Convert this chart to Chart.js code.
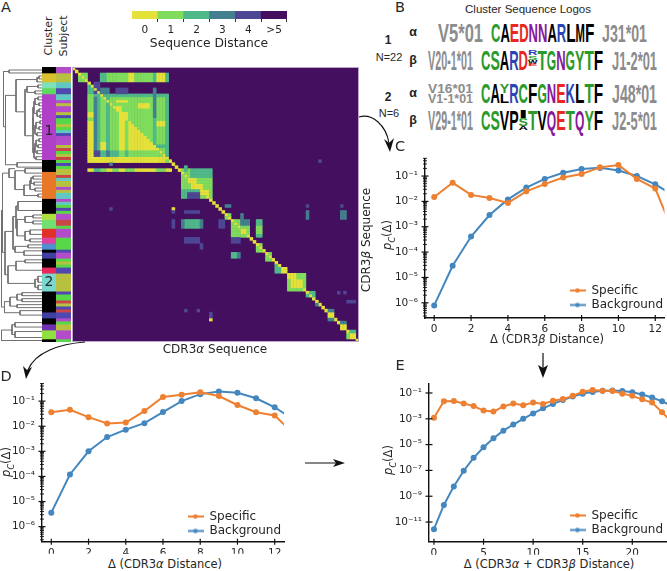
<!DOCTYPE html>
<html>
<head>
<meta charset="utf-8">
<script src="https://cdn.jsdelivr.net/npm/chart.js@4"></script>
<style>
  html, body { margin: 0; padding: 0; background: #fff; }
  #page { position: relative; width: 667px; height: 571px; overflow: hidden; font-family: "DejaVu Sans", sans-serif; color: #262626; }
  #page canvas { position: absolute; }
  .lbl { position: absolute; white-space: nowrap; line-height: 1; }
  .fit { position: absolute; left: 0; top: 0; white-space: nowrap; line-height: 1; font-family: "Liberation Sans", sans-serif; font-weight: bold; transform-origin: 0 0; }
  sub { font-size: 70%; line-height: 0; }
  svg { position: absolute; left: 0; top: 0; }
</style>
</head>
<body>
<div id="page"></div>
<script>
// ---------- panel C: CDR3 beta distance ----------
const distC = [0, 1, 2, 3, 4, 5, 6, 7, 8, 9, 10, 11, 12, 13];
const specificC = [0.015, 0.054, 0.018, 0.0135, 0.0087, 0.025, 0.048, 0.087, 0.12, 0.22, 0.27, 0.077, 0.032, 0.00056];
const backgroundC = [7.9e-7, 2.9e-5, 4.1e-4, 2.9e-3, 0.012, 0.035, 0.077, 0.134, 0.19, 0.21, 0.166, 0.10, 0.047, 0.017];

// ---------- panel D: CDR3 alpha distance ----------
const distD = [0, 1, 2, 3, 4, 5, 6, 7, 8, 9, 10, 11, 12, 13];
const specificD = [0.0358, 0.0453, 0.023, 0.0128, 0.014, 0.04, 0.147, 0.18, 0.227, 0.16, 0.07, 0.036, 0.0267, 0.0052];
const backgroundD = [3.6e-6, 1.2e-4, 1e-3, 3.7e-3, 7.3e-3, 0.0132, 0.0368, 0.1, 0.19, 0.24, 0.215, 0.13, 0.057, 0.0187];

// ---------- panel E: summed distance ----------
const distE = [0, 1, 2, 3, 4, 5, 6, 7, 8, 9, 10, 11, 12, 13, 14, 15, 16, 17, 18, 19, 20, 21, 22, 23, 24];
const specificE = [1.2e-3, 0.0225, 0.0239, 0.0151, 9.6e-3, 4.3e-3, 3.6e-3, 9.1e-3, 0.0151, 0.0113, 0.018, 0.0143, 0.0253, 0.0336, 0.0597, 0.126, 0.167, 0.149, 0.141, 0.089, 0.06, 0.032, 0.018, 3.2e-3, 5.8e-4];
const backgroundE = [2.8e-12, 2.1e-10, 5.8e-9, 9.5e-8, 9.5e-7, 6.3e-6, 3.1e-5, 1.2e-4, 3.6e-4, 1e-3, 2.6e-3, 6.5e-3, 0.0143, 0.028, 0.053, 0.089, 0.119, 0.149, 0.158, 0.141, 0.112, 0.075, 0.045, 0.0225, 0.01];

// tick labels
const xTicksCD = [0, 2, 4, 6, 8, 10, 12];
const xTicksE = [0, 5, 10, 15, 20];
const yTicksCD = [1e-6, 1e-5, 1e-4, 1e-3, 1e-2, 1e-1];
const yTickLabelsCD = ['10⁻⁶', '10⁻⁵', '10⁻⁴', '10⁻³', '10⁻²', '10⁻¹'];
const yTicksE = [1e-11, 1e-9, 1e-7, 1e-5, 1e-3, 1e-1];
const yTickLabelsE = ['10⁻¹¹', '10⁻⁹', '10⁻⁷', '10⁻⁵', '10⁻³', '10⁻¹'];

// ---------- panel A: heat map ----------
const distanceLabels = ['0', '1', '2', '3', '4', '>5'];
const distanceColors = ['#e4e23a', '#80dc5c', '#50b98a', '#43808f', '#4e4793', '#440f5f'];
const heatSize = 92;
// rowFrom, rowTo, colFrom, colTo, distance (indices inclusive, later rows overwrite earlier ones)
const heatBlocks = [
  [2,4,2,4,1],[2,4,9,30,1],[2,4,9,10,2],[2,4,18,19,0],[2,4,26,26,2],[2,4,27,29,0],[2,4,30,30,2],
  [5,8,7,8,4],[6,8,5,6,2],[7,8,9,11,3],[7,8,14,17,4],[7,8,26,26,3],
  [9,31,5,30,1],[9,9,7,30,2],[9,29,30,30,2],[9,31,7,8,2],[10,27,7,7,3],[9,27,11,11,2],
  [9,16,26,26,3],[17,25,26,26,2],[26,26,27,29,2],
  [15,16,5,6,0],[18,31,5,6,0],[25,27,9,10,0],[11,11,14,17,0],[13,14,14,15,0],[15,17,15,17,0],[18,27,15,16,0],
  [12,13,21,24,0],[18,19,27,29,0],
  [19,19,18,19,0],[20,20,18,20,0],[21,21,18,21,0],[22,22,18,22,0],[23,23,18,23,0],[24,24,18,24,0],[25,25,18,25,0],[26,26,18,26,0],[27,27,18,27,0],
  [28,29,7,8,4],[28,29,9,10,2],[28,29,11,11,3],[28,29,12,14,2],[28,29,17,17,2],
  [30,31,5,29,0],[30,31,30,30,1],[32,32,12,12,3],[31,31,79,79,4],
  [34,34,5,31,0],[34,34,7,8,2],[34,34,9,10,1],[34,34,13,14,1],[34,34,17,19,1],[34,34,27,29,1],
  [34,43,35,44,1],[33,34,36,36,2],[34,36,38,44,2],[37,38,37,39,0],[39,40,38,41,0],[41,42,41,43,0],
  [41,43,35,40,2],[42,43,37,40,4],
  [46,46,49,50,3],[46,46,75,75,4],[46,46,86,86,4],[47,47,12,12,4],[47,47,32,32,0],[48,48,32,32,4],[48,48,36,40,4],
  [48,50,75,75,3],[48,50,86,87,3],[49,50,49,50,1],[49,50,54,54,3],
  [51,53,32,32,4],[51,53,35,41,2],[51,53,35,35,3],[51,53,41,41,3],[51,53,47,48,4],
  [51,56,51,56,1],[51,52,54,56,3],[51,56,59,60,2],[53,55,59,60,1],[54,55,54,55,0],
  [57,58,36,40,4],[57,58,51,53,4],[59,60,41,41,4],[59,61,59,60,1],[62,63,51,53,2],[62,63,53,53,3],[62,64,62,63,1],
  [66,68,65,66,2],[67,68,67,68,0],
  [69,74,69,74,1],[69,70,69,71,0],[71,73,70,73,0],
  [75,76,75,77,2],[75,75,85,85,4],[75,75,87,87,4],[78,78,88,90,4],[78,79,78,78,3],
  [81,81,36,36,4],[81,81,40,40,4],[82,83,44,44,4],[84,84,44,44,0],
  [81,84,82,83,1],[81,81,82,83,3],[84,84,82,83,3],[82,83,82,83,0],
  [85,87,86,87,1],[85,85,86,87,3],[86,87,86,87,0],
  [88,90,88,90,1],[88,88,88,90,2],[89,90,89,90,0]
];

// colour strips left of the heat map
const clusterSizes = [2, 3, 2, 2, 22, 4, 9, 5, 2, 3, 3, 2, 2, 1, 2, 3, 2, 6, 7, 2, 2, 2, 3, 1];
const clusterColors = ['#000000', '#d8c030', '#80e0b8', '#60d860', '#b040c8', '#000000', '#e87828', '#000000', '#b0e040', '#70e070', '#e03028', '#e040a0', '#5090d0', '#000000', '#4040a0', '#000000', '#e82858', '#78d8d0', '#000000', '#4040a0', '#000000', '#7030b0', '#90e040', '#000000'];
const subjectColorNames = { M: '#b34cc8', O: '#b8c040', T: '#60c8c0', I: '#5048b0', G: '#58d848', R: '#c84848' };
const subjectSizes = [2,3,2,2,2,1,1,2,1,1,2,1,1,1,1,3,1,1,1,1,1,1, 1,1,2,1,1,2,1,1,2,1,1,1,1,1,2,2,1,3,4,1,2,1,1,1,2,6,1,2,1,1,1,1,2,1,1,2,3,1];
const subjectKinds = ['M','O','T','I','T','M','O','M','O','I','G','O','G','T','I','M','O','R','G','O','R','G', 'I','G','O','R','T','O','M','O','T','M','T','G','I','G','M','R','G','M','G','I','M','G','O','G','I','O','I','G','R','O','I','R','I','M','G','O','M','G'];

// dendrogram: yA, xA, yB, xB, xJoin (y in heat map rows, x in px from the left)
const dendroLinks = [
  [1,42,2,42,9],[3,42,4,42,39],[3.5,39,5,42,37],[6,42,7,42,38],[8,42,9,42,35],[6.5,38,8.5,35,27],
  [10,42,11,42,38],[12,42,13,42,39],[14,42,15,42,39],[16,42,17,42,40],[18,42,19,42,40],[20,42,21,42,39],[22,42,23,42,37],[24,42,25,42,39],[26,42,27,42,38],[28,42,29,42,37],[30,42,31,42,36],
  [10.5,38,12.5,39,35],[14.5,39,16.5,40,37],[18.5,40,20.5,39,36],[11.5,35,15.5,37,34],[19.5,36,22.5,37,35],[13.5,34,21,35,33],[24.5,39,26.5,38,36],[25.5,36,28.5,37,35],[27,35,30.5,36,34],[17,33,28.7,34,33],
  [7.5,27,23,33,25],[4.2,37,15,25,16],[32,42,33.5,42,17],
  [9.5,16,32.7,17,5.5],[1.5,9,20,5.5,3.5],
  [34,42,35.5,42,25],[36.5,42,37.5,42,33],[38.5,42,39.5,42,34],[40.5,42,41.5,42,35],[37,33,39,34,31],[38,31,41,35,30],[42.5,42,43.5,42,38],[39.5,30,43,38,24],[34.7,25,41,24,15],
  [34,15,37,15,9],
  [45,42,48,42,18],[49.5,42,50.5,42,33],[51.5,42,52.5,42,33],[50,33,52,33,25],[54.5,42,56,42,30],[57.5,42,58.5,42,30],[55,30,58,30,25],[59.5,42,60.5,42,28],[61.5,42,63,42,24],
  [51,25,56.5,25,17],[60,28,62,24,15],[46.5,18,54,17,16],[50,16,61,15,13],
  [64.5,42,65.5,42,25],[65,25,68,42,16],[70,42,72,42,38],[73,42,74.5,42,38],[71,38,73.7,38,35],[66.5,16,72.4,35,8],
  [55,13,69.5,8,5],[35.5,9,62,5,2.5],
  [75.5,42,76.5,42,22],[77.5,42,78.5,42,22],[76,22,78,22,17],[79.5,42,80.5,42,17],[77,17,80,17,10],[81.5,42,83,42,20],[78.5,10,82.2,20,4.5],
  [85.5,42,87,42,15],[88.5,42,90.5,42,15],[86.2,15,89.5,15,12],[88,12,91.5,42,1.5],
  [48,2.5,80.3,4.5,1.5]
];

// ---------- panel B: logos ----------
const letterColors = { C: '#2a9a2a', S: '#2a9a2a', T: '#2a9a2a', G: '#2a9a2a', Y: '#2a9a2a', A: '#000', L: '#000', M: '#000', F: '#000', V: '#000', P: '#000', I: '#000', W: '#000', E: '#e8281e', D: '#e8281e', N: '#86189c', Q: '#86189c', R: '#2a44b8', K: '#2a44b8' };
const logoTitle = 'Cluster Sequence Logos';
const logoRows = [
  { chain: 'α', v: ['V5*01'], cols: 'CAEDNNARLMF'.split(''), j: 'J31*01', top: 23, height: 19, left: 491, vLeft: 438, vWidth: 45, jLeft: 602 },
  { chain: 'β', v: ['V20-1*01'], cols: ['C','S','A','R','D',[['R',0.28],['S',0.22],['W',0.2],['E',0.12]],'T','G','N','G','Y','T','F'], j: 'J1-2*01', top: 50, height: 20, left: 481, vLeft: 428, vWidth: 45, jLeft: 612 },
  { chain: 'α', v: ['V16*01', 'V1-1*01'], cols: ['C','A',[['Y',0.5],['L',0.5]],'R','C','F','G','N','E','K','L','T','F'], j: 'J48*01', top: 83, height: 20, left: 481, vLeft: 428, vWidth: 45, jLeft: 612 },
  { chain: 'β', v: ['V29-1*01'], cols: ['C','S','V','P',[['I',0.42],['S',0.4],['A',0.18]],'T','V','Q','E','T','Q','Y','F'], j: 'J2-5*01', top: 110, height: 20, left: 481, vLeft: 428, vWidth: 45, jLeft: 612 }
];

const orange = '#ee8031';
const blue = '#4487bf';
const ink = '#262626';

const page = document.getElementById('page');

function addCanvas(left, top, width, height) {
  const c = document.createElement('canvas');
  c.width = width;
  c.height = height;
  c.style.left = left + 'px';
  c.style.top = top + 'px';
  c.style.width = width + 'px';
  c.style.height = height + 'px';
  page.appendChild(c);
  return c;
}

function addLabel(html, x, y, size, opts = {}) {
  const d = document.createElement('div');
  d.className = 'lbl';
  d.innerHTML = html;
  d.style.left = x + 'px';
  d.style.top = y + 'px';
  d.style.fontSize = size + 'px';
  d.style.transform = 'translate(-50%,-50%) rotate(' + (opts.rot || 0) + 'deg)';
  if (opts.font) d.style.fontFamily = opts.font;
  if (opts.weight) d.style.fontWeight = opts.weight;
  if (opts.color) d.style.color = opts.color;
  page.appendChild(d);
}

// squeeze a text run into a given box, logo style
const measure = document.createElement('canvas').getContext('2d');
function addFit(text, x, y, w, h, color) {
  const fs = 40;
  measure.font = 'bold ' + fs + 'px "Liberation Sans"';
  const sx = w / measure.measureText(text).width;
  const sy = h / (0.729 * fs);
  const s = document.createElement('span');
  s.className = 'fit';
  s.textContent = text;
  s.style.fontSize = fs + 'px';
  s.style.color = color;
  s.style.transform = 'translate(' + x + 'px,' + (y - 0.1175 * fs * sy) + 'px) scale(' + sx + ',' + sy + ')';
  page.appendChild(s);
}

// spine ticks straddling the axes, the ladder look of the original
const axisTicks = {
  id: 'axisTicks',
  afterDraw(chart) {
    const { ctx, chartArea, scales } = chart;
    ctx.save();
    ctx.strokeStyle = '#111';
    for (const t of scales.y.ticks) {
      const py = scales.y.getPixelForValue(t.value);
      const len = t.major ? 3.5 : 2;
      ctx.lineWidth = t.major ? 1.2 : 0.9;
      ctx.beginPath();
      ctx.moveTo(chartArea.left - len, py);
      ctx.lineTo(chartArea.left + len, py);
      ctx.stroke();
    }
    for (const t of scales.x.ticks) {
      const px = scales.x.getPixelForValue(t.value);
      ctx.lineWidth = 1.2;
      ctx.beginPath();
      ctx.moveTo(px, chartArea.bottom - 3);
      ctx.lineTo(px, chartArea.bottom + 3);
      ctx.stroke();
    }
    ctx.restore();
  }
};

// legend sits inside the plot, at a fixed spot
const legendSpot = {
  id: 'legendSpot',
  afterLayout(chart, args, opts) {
    const l = chart.legend;
    l.left = opts.x;
    l.right = opts.x + 110;
    l.top = opts.y;
    l.bottom = opts.y + 40;
  }
};

function legendSample(color) {
  const c = document.createElement('canvas');
  c.width = 16;
  c.height = 7;
  const g = c.getContext('2d');
  g.strokeStyle = color;
  g.lineWidth = 2;
  g.beginPath();
  g.moveTo(0, 3.5);
  g.lineTo(16, 3.5);
  g.stroke();
  g.fillStyle = color;
  g.beginPath();
  g.arc(8, 3.5, 2.2, 0, Math.PI * 2);
  g.fill();
  return c;
}

function logPanel(p) {
  const c = addCanvas(p.canvas[0], p.canvas[1], p.canvas[2], p.canvas[3]);
  const toPoints = (xs, ys) => xs.map((x, i) => ({ x, y: ys[i] }));
  const series = (label, ys, color) => ({
    label,
    data: toPoints(p.dist, ys),
    borderColor: color,
    backgroundColor: color,
    borderWidth: 2,
    pointRadius: 3,
    pointBorderWidth: 0,
    tension: 0
  });
  new Chart(c.getContext('2d'), {
    type: 'line',
    data: { datasets: [series('Specific', p.specific, orange), series('Background', p.background, blue)] },
    plugins: [axisTicks, legendSpot],
    options: {
      responsive: false,
      animation: false,
      layout: { autoPadding: false, padding: { top: p.area.top - p.canvas[1], right: p.canvas[0] + p.canvas[2] - p.area.right, left: 0, bottom: 0 } },
      plugins: {
        tooltip: { enabled: false },
        legendSpot: { x: p.legend[0] - p.canvas[0], y: p.legend[1] - p.canvas[1] },
        legend: {
          position: 'chartArea',
          align: 'start',
          labels: {
            usePointStyle: true,
            pointStyleWidth: 16,
            padding: 2.5,
            color: ink,
            font: { size: 12 },
            generateLabels(chart) {
              const items = Chart.defaults.plugins.legend.labels.generateLabels(chart);
              items.forEach((it, i) => { it.pointStyle = legendSample(i === 0 ? orange : blue); });
              return items;
            }
          }
        }
      },
      scales: {
        x: {
          type: 'linear',
          min: -0.5,
          max: p.xMax,
          grid: { display: false, drawTicks: false },
          border: { display: true, color: '#111', width: 1.4 },
          ticks: { padding: 5, color: ink, font: { size: 10.5 }, maxRotation: 0, autoSkip: false },
          afterBuildTicks(s) { s.ticks = p.xTicks.map(v => ({ value: v })); },
          afterFit(s) { s.height = p.canvas[1] + p.canvas[3] - p.area.bottom; }
        },
        y: {
          type: 'logarithmic',
          min: p.yMin,
          max: p.yMax,
          grid: { display: false, drawTicks: false },
          border: { display: true, color: '#111', width: 1.4 },
          ticks: {
            autoSkip: false,
            padding: 7,
            color: ink,
            font: { size: 10.5 },
            callback(v) {
              const i = p.yTicks.findIndex(t => Math.abs(Math.log10(t) - Math.log10(v)) < 1e-6);
              return i >= 0 ? p.yTickLabels[i] : '';
            }
          },
          afterBuildTicks(s) {
            const out = p.yTicks.map(v => ({ value: v, major: true }));
            if (p.minorTicks) {
              for (let e = -8; e <= -1; e++) {
                for (const m of [2, 3, 4, 5, 6, 7, 8, 9]) {
                  const v = m * Math.pow(10, e);
                  if (v >= p.yMin && v <= p.yMax) out.push({ value: v, major: false });
                }
              }
              for (const v of [1e-7, 1e-8]) if (v >= p.yMin) out.push({ value: v, major: true });
            }
            s.ticks = out;
          },
          afterFit(s) { s.width = p.area.left - p.canvas[0]; }
        }
      }
    }
  });
}

Chart.defaults.font.family = '"DejaVu Sans", sans-serif';

logPanel({
  canvas: [375, 145, 292, 195], area: { left: 425, right: 666, top: 153, bottom: 318 },
  dist: distC, specific: specificC, background: backgroundC, xTicks: xTicksCD,
  xMax: 12.5, yMin: Math.pow(10, -6.6), yMax: Math.pow(10, -0.3), yTicks: yTicksCD, yTickLabels: yTickLabelsCD, minorTicks: true,
  legend: [567, 282]
});
logPanel({
  canvas: [0, 370, 290, 185], area: { left: 42, right: 284, top: 378, bottom: 543 },
  dist: distD, specific: specificD, background: backgroundD, xTicks: xTicksCD,
  xMax: 12.5, yMin: Math.pow(10, -6.6), yMax: Math.pow(10, -0.29), yTicks: yTicksCD, yTickLabels: yTickLabelsCD, minorTicks: true,
  legend: [185, 508]
});
logPanel({
  canvas: [375, 370, 292, 185], area: { left: 429, right: 667, top: 378, bottom: 542 },
  dist: distE, specific: specificE, background: backgroundE, xTicks: xTicksE,
  xMax: 23.5, yMin: Math.pow(10, -12.5), yMax: Math.pow(10, -0.25), yTicks: yTicksE, yTickLabels: yTickLabelsE, minorTicks: false,
  legend: [567, 507]
});

// ---------- heat map ----------
const grid = [];
for (let r = 0; r < heatSize; r++) grid.push(new Array(heatSize).fill(5));
for (const [r0, r1, c0, c1, d] of heatBlocks) {
  for (let r = r0; r <= r1; r++) for (let k = c0; k <= c1; k++) grid[r][k] = d;
}
for (let i = 0; i < heatSize; i++) grid[i][i] = 0; // every sequence is at distance 0 from itself

const heatSets = [0, 1, 2, 3, 4].map(d => {
  const pts = [];
  for (let r = 0; r < heatSize; r++) for (let k = 0; k < heatSize; k++) {
    if (grid[r][k] === d) pts.push({ x: k + 0.5, y: r + 0.5 });
  }
  return { label: distanceLabels[d], data: pts, backgroundColor: distanceColors[d], borderWidth: 0, pointStyle: 'rect', pointRadius: 2.5 };
}).reverse();

const heatBackground = {
  id: 'heatBackground',
  beforeDatasetsDraw(chart) {
    const { ctx, chartArea: a } = chart;
    ctx.save();
    ctx.fillStyle = distanceColors[5];
    ctx.fillRect(a.left, a.top, a.right - a.left, a.bottom - a.top);
    ctx.restore();
  },
  afterDatasetsDraw(chart) {
    const { ctx, chartArea: a } = chart;
    ctx.save();
    ctx.strokeStyle = '#b9a8c9';
    ctx.lineWidth = 1;
    ctx.strokeRect(a.left + 0.5, a.top + 0.5, a.right - a.left - 1, a.bottom - a.top - 1);
    ctx.restore();
  }
};

new Chart(addCanvas(72, 67, 287, 275).getContext('2d'), {
  type: 'scatter',
  data: { datasets: heatSets },
  plugins: [heatBackground],
  options: {
    responsive: false,
    animation: false,
    layout: { autoPadding: false },
    plugins: { legend: { display: false }, tooltip: { enabled: false } },
    scales: {
      x: { type: 'linear', display: false, min: 0, max: heatSize },
      y: { type: 'linear', display: false, min: 0, max: heatSize, reverse: true }
    }
  }
});

// ---------- strips ----------
function strip(left, width, sizes, colors) {
  new Chart(addCanvas(left, 67, width, 275).getContext('2d'), {
    type: 'bar',
    data: {
      labels: [''],
      datasets: sizes.map((s, i) => ({ data: [s], backgroundColor: colors[i], borderWidth: 0, barPercentage: 1, categoryPercentage: 1 }))
    },
    options: {
      responsive: false,
      animation: false,
      layout: { autoPadding: false },
      plugins: { legend: { display: false }, tooltip: { enabled: false } },
      scales: {
        x: { display: false, stacked: true },
        y: { display: false, stacked: true, min: 0, max: heatSize, reverse: true }
      }
    }
  });
}
strip(42, 14, clusterSizes, clusterColors);
strip(56, 15, subjectSizes, subjectKinds.map(k => subjectColorNames[k]));

// ---------- dendrogram ----------
const dendroPoints = [];
for (const [yA, xA, yB, xB, xJoin] of dendroLinks) {
  dendroPoints.push({ x: xA, y: yA }, { x: xJoin, y: yA }, { x: xJoin, y: yB }, { x: xB, y: yB }, { x: NaN, y: NaN });
}
new Chart(addCanvas(0, 67, 42, 275).getContext('2d'), {
  type: 'scatter',
  data: { datasets: [{ data: dendroPoints, showLine: true, spanGaps: false, borderColor: '#707070', borderWidth: 1, pointRadius: 0 }] },
  options: {
    responsive: false,
    animation: false,
    layout: { autoPadding: false },
    plugins: { legend: { display: false }, tooltip: { enabled: false } },
    scales: {
      x: { type: 'linear', display: false, min: 0, max: 42 },
      y: { type: 'linear', display: false, min: 0, max: heatSize, reverse: true }
    }
  }
});

// ---------- colour bar ----------
new Chart(addCanvas(132, 11, 155, 26).getContext('2d'), {
  type: 'bar',
  data: {
    labels: distanceLabels,
    datasets: [{ data: distanceLabels.map(() => 1), backgroundColor: distanceColors, borderWidth: 0, barPercentage: 1, categoryPercentage: 1 }]
  },
  options: {
    responsive: false,
    animation: false,
    layout: { autoPadding: false },
    plugins: { legend: { display: false }, tooltip: { enabled: false } },
    scales: {
      x: {
        grid: { drawOnChartArea: false, tickLength: 3, tickColor: '#333' },
        border: { display: false },
        ticks: { padding: 2, color: ink, font: { size: 10.5 }, maxRotation: 0 },
        afterFit(s) { s.height = 18; }
      },
      y: { display: false, min: 0, max: 1 }
    }
  }
});

// ---------- logos ----------
addLabel(logoTitle, 528, 10, 11.5, { font: '"Liberation Sans"' });
const colWidth = 9.4;
logoRows.forEach(row => {
  addLabel(row.chain, 413, row.top + row.height / 2 - 0.5, 12.5, { font: '"Liberation Sans"', weight: 'bold', color: '#222' });
  if (row.v.length === 1) {
    addFit(row.v[0], row.vLeft, row.top, row.vWidth, row.height, '#8c8c8c');
  } else {
    addFit(row.v[0], row.vLeft, row.top, row.vWidth, row.height / 2 - 0.5, '#8c8c8c');
    addFit(row.v[1], row.vLeft, row.top + row.height / 2, row.vWidth, row.height / 2 - 0.5, '#8c8c8c');
  }
  addFit(row.j, row.jLeft, row.top + 1, 45, row.height - 1, '#8c8c8c');
  row.cols.forEach((col, i) => {
    const x = row.left + i * colWidth;
    if (typeof col === 'string') {
      addFit(col, x, row.top, colWidth, row.height, letterColors[col]);
    } else {
      let y = row.top;
      for (const [ch, frac] of col) {
        addFit(ch, x, y, colWidth, row.height * frac - 0.3, letterColors[ch]);
        y += row.height * frac;
      }
    }
  });
});
addLabel('1', 388, 40, 12, { font: '"Liberation Sans"', weight: 'bold' });
addLabel('N=22', 389, 57, 11, { font: '"Liberation Sans"' });
addLabel('2', 388, 97, 12, { font: '"Liberation Sans"', weight: 'bold' });
addLabel('N=6', 389, 113, 11, { font: '"Liberation Sans"' });

// ---------- text ----------
addLabel('A', 6, 7, 14.5);
addLabel('B', 400, 7, 14.5);
addLabel('C', 400, 146, 14.5);
addLabel('D', 6, 376, 14.5);
addLabel('E', 400, 365, 14.5);
addLabel('Cluster', 48, 36, 11, { rot: -90 });
addLabel('Subject', 63, 36, 11, { rot: -90 });
addLabel('Sequence Distance', 209, 43, 12.3);
addLabel('1', 49, 130, 14);
addLabel('2', 49, 281, 14);
addLabel('CDR3<i>α</i> Sequence', 215, 349, 12);
addLabel('CDR3<i>β</i> Sequence', 366, 240, 12, { rot: -90 });
addLabel('Δ (CDR3<i>β</i> Distance)', 547, 340, 11.5);
addLabel('Δ (CDR3<i>α</i> Distance)', 165, 565, 11.5);
addLabel('Δ (CDR3<i>α</i> + CDR3<i>β</i> Distance)', 549, 565, 11.5);
const pLabel = '<i>p<sub>C</sub></i>(Δ)';
addLabel(pLabel, 388, 235, 11.5, { rot: -90 });
addLabel(pLabel, 7, 462, 11.5, { rot: -90 });
addLabel(pLabel, 389, 460, 11.5, { rot: -90 });

// ---------- arrows between the panels ----------
const arrows = document.createElementNS('http://www.w3.org/2000/svg', 'svg');
arrows.setAttribute('width', 667);
arrows.setAttribute('height', 571);
arrows.innerHTML = `
  <path d="M359 117 C372 113 386 125 389 143" fill="none" stroke="#111" stroke-width="1.1"/>
  <path d="M390 152 L384 139 L389 143 L394 138 Z" fill="#111"/>
  <path d="M85 342 C60 344 35 352 28 370" fill="none" stroke="#111" stroke-width="1.1"/>
  <path d="M26 379 L23 366 L27 370 L32 367 Z" fill="#111"/>
  <path d="M543 353 L543 370" fill="none" stroke="#111" stroke-width="1.2"/>
  <path d="M543 378 L538 365 L543 368 L548 365 Z" fill="#111"/>
  <path d="M305 463 L338 463" fill="none" stroke="#111" stroke-width="1.2"/>
  <path d="M345 463 L333 459 L336 463 L333 467 Z" fill="#111"/>`;
page.appendChild(arrows);
</script>
</body>
</html>
